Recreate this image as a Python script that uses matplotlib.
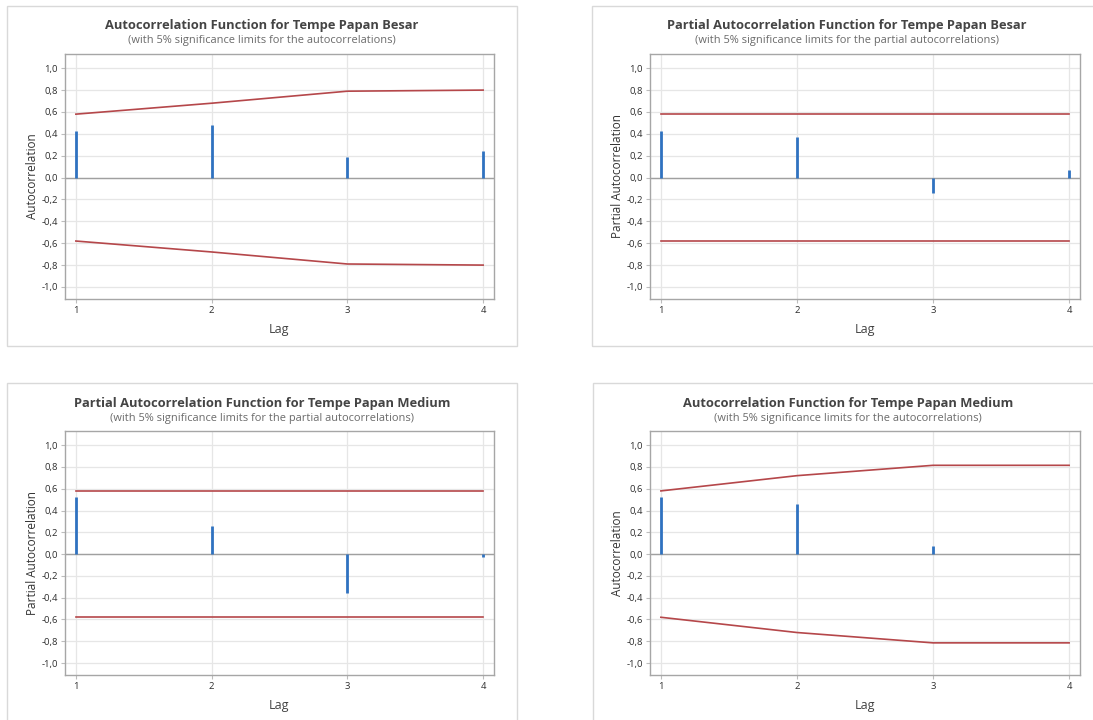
import numpy as np
import matplotlib
matplotlib.use('Agg')
import matplotlib.pyplot as plt
from matplotlib.patches import Rectangle
from matplotlib.ticker import FuncFormatter

plt.rcParams['font.family'] = ['Open Sans', 'DejaVu Sans']

lags = [1, 2, 3, 4]

# Tempe Papan Besar
acf_besar = [0.43, 0.48, 0.19, 0.24]
acf_besar_lim = [0.58, 0.68, 0.79, 0.80]
pacf_besar = [0.43, 0.37, -0.14, 0.07]
pacf_besar_lim = [0.58, 0.58, 0.58, 0.58]

# Tempe Papan Medium
pacf_medium = [0.525, 0.26, -0.36, -0.03]
pacf_medium_lim = [0.58, 0.58, 0.58, 0.58]
acf_medium = [0.52, 0.46, 0.075, 0.005]
acf_medium_lim = [0.58, 0.72, 0.815, 0.815]

yticks = [-1.0, -0.8, -0.6, -0.4, -0.2, 0.0, 0.2, 0.4, 0.6, 0.8, 1.0]

W, H = 1093, 720
fig = plt.figure(figsize=(W / 100, H / 100), dpi=100)
fig.patch.set_facecolor('white')

panels = [
    # (frame box px, axes box px, title, subtitle, ylabel, values, limits)
    ((7, 6, 517, 346), (65, 54, 494, 299),
     'Autocorrelation Function for Tempe Papan Besar',
     '(with 5% significance limits for the autocorrelations)',
     'Autocorrelation', acf_besar, acf_besar_lim),
    ((592, 6, 1102, 346), (650, 54, 1080, 299),
     'Partial Autocorrelation Function for Tempe Papan Besar',
     '(with 5% significance limits for the partial autocorrelations)',
     'Partial Autocorrelation', pacf_besar, pacf_besar_lim),
    ((7, 383, 517, 724), (65, 431, 494, 675),
     'Partial Autocorrelation Function for Tempe Papan Medium',
     '(with 5% significance limits for the partial autocorrelations)',
     'Partial Autocorrelation', pacf_medium, pacf_medium_lim),
    ((593, 383, 1103, 724), (650, 431, 1080, 675),
     'Autocorrelation Function for Tempe Papan Medium',
     '(with 5% significance limits for the autocorrelations)',
     'Autocorrelation', acf_medium, acf_medium_lim),
]

fmt = FuncFormatter(lambda v, p: f"{v:.1f}".replace('.', ','))

for frame, box, title, sub, ylab, vals, lims in panels:
    fx0, fy0, fx1, fy1 = frame
    fig.patches.append(Rectangle((fx0 / W, 1 - fy1 / H), (fx1 - fx0) / W, (fy1 - fy0) / H,
                                 transform=fig.transFigure, fill=False,
                                 edgecolor='#d9d9d9', lw=1.0))
    x0, y0, x1, y1 = box
    ax = fig.add_axes([x0 / W, 1 - y1 / H, (x1 - x0) / W, (y1 - y0) / H])
    ax.set_xlim(0.92, 4.08)
    ax.set_ylim(-1.11, 1.13)
    ax.set_yticks(yticks)
    ax.set_xticks(lags)
    ax.yaxis.set_major_formatter(fmt)
    ax.grid(True, color='#e6e6e6', lw=0.9)
    ax.set_axisbelow(True)
    for s in ax.spines.values():
        s.set_color('#a6a6a6')
        s.set_linewidth(1.0)
    ax.tick_params(length=3, color='#bdbdbd', labelsize=6.8, labelcolor='#2e2e2e', pad=2)
    ax.axhline(0, color='#a0a0a0', lw=1.0, zorder=2)

    ax.vlines(lags, 0, vals, color='#2f72c0', lw=2.0, zorder=3)
    ax.plot(lags, lims, color='#b5474a', lw=1.2, zorder=3)
    ax.plot(lags, [-v for v in lims], color='#b5474a', lw=1.2, zorder=3)

    ax.set_xlabel('Lag', fontsize=9, color='#444444', labelpad=6)
    ax.set_ylabel(ylab, fontsize=8.5, color='#333333', labelpad=2)

    cx = (fx0 + fx1) / 2 / W
    ty = fy0 + 20
    fig.text(cx, 1 - ty / H, title, ha='center', va='center', fontsize=9.3,
             fontweight='bold', color='#444444')
    fig.text(cx, 1 - (ty + 15) / H, sub, ha='center', va='center', fontsize=7.9,
             color='#6a6a6a')

fig.savefig('out.png', dpi=100, facecolor='white')
